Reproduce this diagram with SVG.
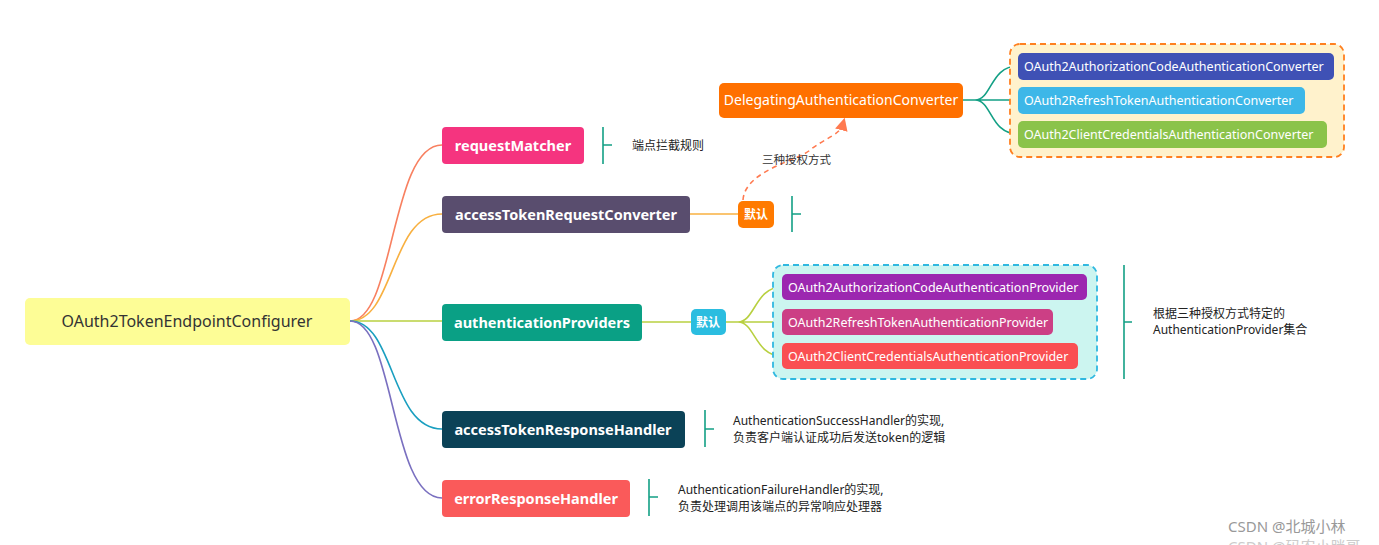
<svg xmlns="http://www.w3.org/2000/svg" width="1379" height="545" viewBox="0 0 1379 545">
<style>
text{font-family:"Noto Sans","Noto Sans CJK SC",sans-serif}
.b{font-size:14.5px;font-weight:bold;fill:#fff}
.s{font-size:12.5px;fill:#fff}
.n{font-size:12px;fill:#222}
.c{fill:none;stroke-width:1.6}
.br{fill:none;stroke:#13a085;stroke-width:1.6}
</style>
<defs><marker id="ah" markerWidth="8" markerHeight="8" refX="4" refY="4" orient="auto"><path d="M0,0L8,4L0,8z" fill="#ff7a50"/></marker></defs>
<rect width="1379" height="545" fill="#fff"/>
<g id="connectors">
<path class="c" stroke="#f88060" d="M350,321 C395,321 390,145 442,145"/>
<path class="c" stroke="#f8b040" d="M350,321 C395,321 390,214 442,214"/>
<path class="c" stroke="#b8d040" d="M350,321 L442,321"/>
<path class="c" stroke="#1a9fc0" d="M350,321 C395,321 390,429 442,429"/>
<path class="c" stroke="#7a70c0" d="M350,321 C395,321 390,498 442,498"/>
<path class="c" stroke="#f8b040" d="M690,214 L738,214"/>
<path class="c" stroke="#b8d040" d="M642,322 L691,322"/>
<path class="c" stroke="#b8d040" d="M726,322 L738,322 C755,322 755,287 782,287 M738,322 L782,322 M738,322 C755,322 755,356 782,356"/>
<path class="c" stroke="#13a085" d="M963,100 L975,100 C992,100 990,66 1018,66 M975,100 L1018,100 M975,100 C992,100 990,134 1018,134"/>
<path fill="none" stroke="#ff7a50" stroke-width="1.6" stroke-dasharray="5,4" d="M743,200 C745,170 800,160 810,150 C825,138 840,135 843,124" marker-end="url(#ah)"/>
<text x="762" y="164" font-size="11.5" fill="#333">三种授权方式</text>
<path class="br" d="M603,127 V164 M603,145 H612"/>
<path class="br" d="M792,196 V232 M792,214 H801"/>
<path class="br" d="M1124,265 V379 M1124,322 H1132"/>
<path class="br" d="M705,410 V447 M705,429 H714"/>
<path class="br" d="M649,479 V516 M649,497 H658"/>
</g>
<g id="root"><rect x="25" y="298" width="325" height="47" rx="5" fill="#fdfd96"/><text x="187" y="327" text-anchor="middle" font-size="16" fill="#333">OAuth2TokenEndpointConfigurer</text></g>
<g id="requestMatcher"><rect x="442" y="127" width="142" height="37" rx="4" fill="#f5347f"/><text x="513" y="151" text-anchor="middle" class="b">requestMatcher</text></g>
<g id="accessTokenRequestConverter"><rect x="442" y="196" width="248" height="37" rx="4" fill="#594d6e"/><text x="566" y="220" text-anchor="middle" class="b">accessTokenRequestConverter</text></g>
<g id="authenticationProviders"><rect x="442" y="304" width="200" height="37" rx="4" fill="#0aa085"/><text x="542" y="328" text-anchor="middle" class="b">authenticationProviders</text></g>
<g id="accessTokenResponseHandler"><rect x="442" y="411" width="243" height="37" rx="4" fill="#0b4257"/><text x="563" y="435" text-anchor="middle" class="b">accessTokenResponseHandler</text></g>
<g id="errorResponseHandler"><rect x="442" y="480" width="188" height="37" rx="4" fill="#fa5a5a"/><text x="536" y="504" text-anchor="middle" class="b">errorResponseHandler</text></g>
<g id="note1"><text x="632" y="150" class="n">端点拦截规则</text></g>
<g id="default1"><rect x="738" y="201" width="36" height="27" rx="5" fill="#ff7a00"/><text x="756" y="219" text-anchor="middle" font-size="12" font-weight="bold" fill="#fff">默认</text></g>
<g id="default2"><rect x="691" y="309" width="35" height="26" rx="5" fill="#2bbde0"/><text x="708" y="327" text-anchor="middle" font-size="12" font-weight="bold" fill="#fff">默认</text></g>
<g id="delegating"><rect x="719" y="83" width="244" height="35" rx="5" fill="#ff7000"/><text x="841" y="105" text-anchor="middle" font-size="14" fill="#fff">DelegatingAuthenticationConverter</text></g>
<g id="converters">
<rect x="1010" y="44" width="334" height="113" rx="10" fill="#fff2cc" stroke="#ff8020" stroke-width="1.8" stroke-dasharray="6,4"/>
<rect x="1018" y="53" width="316" height="27" rx="5" fill="#3f51b5"/><text x="1024" y="71" class="s">OAuth2AuthorizationCodeAuthenticationConverter</text>
<rect x="1018" y="87" width="287" height="27" rx="5" fill="#3db7e8"/><text x="1024" y="105" class="s">OAuth2RefreshTokenAuthenticationConverter</text>
<rect x="1018" y="121" width="309" height="27" rx="5" fill="#8bc34a"/><text x="1024" y="139" class="s">OAuth2ClientCredentialsAuthenticationConverter</text>
</g>
<g id="providers">
<rect x="773" y="265" width="324" height="114" rx="10" fill="#ccf5f0" stroke="#30b8e0" stroke-width="1.8" stroke-dasharray="6,4"/>
<rect x="782" y="274" width="305" height="26" rx="5" fill="#9c27b0"/><text x="788" y="292" class="s">OAuth2AuthorizationCodeAuthenticationProvider</text>
<rect x="782" y="309" width="271" height="26" rx="5" fill="#cc3f85"/><text x="788" y="327" class="s">OAuth2RefreshTokenAuthenticationProvider</text>
<rect x="782" y="343" width="296" height="26" rx="5" fill="#fa4f52"/><text x="788" y="361" class="s">OAuth2ClientCredentialsAuthenticationProvider</text>
</g>
<g id="note2"><text x="1153" y="318" class="n">根据三种授权方式特定的</text><text x="1153" y="334" class="n">AuthenticationProvider集合</text></g>
<g id="note3"><text x="733" y="425" class="n">AuthenticationSuccessHandler的实现,</text><text x="733" y="442" class="n">负责客户端认证成功后发送token的逻辑</text></g>
<g id="note4"><text x="678" y="494" class="n">AuthenticationFailureHandler的实现,</text><text x="678" y="511" class="n">负责处理调用该端点的异常响应处理器</text></g>
<text x="1228" y="532" font-size="15" fill="#999">CSDN @北城小林</text>
<text x="1228" y="552" font-size="15" fill="#ccc">CSDN @码农小胖哥</text>
</svg>
